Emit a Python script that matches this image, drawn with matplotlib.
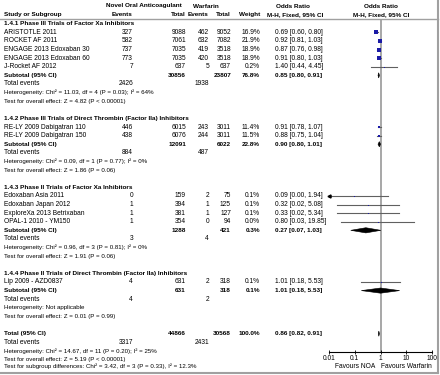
import matplotlib
matplotlib.use('Agg')
import matplotlib.pyplot as plt
from matplotlib.patches import Polygon

plt.rcParams['font.family'] = ['Liberation Sans', 'DejaVu Sans']

# ---------------- data ----------------
group_titles = [
    "1.4.1 Phase III Trials of Factor Xa Inhibitors",
    "1.4.2 Phase III Trials of Direct Thrombin (Factor IIa) Inhibitors",
    "1.4.3 Phase II Trials of Factor Xa Inhibitors",
    "1.4.4 Phase II Trials of Direct Thrombin (Factor IIa) Inhibitors",
]
study_names = [
    "ARISTOTLE 2011", "ROCKET AF 2011", "ENGAGE 2013 Edoxaban 30",
    "ENGAGE 2013 Edoxaban 60", "J-Rocket AF 2012",
    "RE-LY 2009 Dabigatran 110", "RE-LY 2009 Dabigatran 150",
    "Edoxaban Asia 2011", "Edoxaban Japan 2012", "ExploreXa 2013 Betrixaban",
    "OPAL-1 2010 - YM150", "Lip 2009 - AZD0837",
]
study_group = [0, 0, 0, 0, 0, 1, 1, 2, 2, 2, 2, 3]
noa_events = [327, 582, 737, 773, 7, 446, 438, 0, 1, 1, 1, 4]
noa_total = [9088, 7061, 7035, 7035, 637, 6015, 6076, 159, 394, 381, 354, 631]
war_events = [462, 632, 419, 420, 5, 243, 244, 2, 1, 1, 0, 2]
war_total = [9052, 7082, 3518, 3518, 637, 3011, 3011, 75, 125, 127, 94, 318]
weights = [16.9, 21.9, 18.9, 18.9, 0.2, 11.4, 11.5, 0.1, 0.1, 0.1, 0.0, 0.1]
or_est = [0.69, 0.92, 0.87, 0.91, 1.40, 0.91, 0.88, 0.09, 0.32, 0.33, 0.80, 1.01]
or_lo = [0.60, 0.81, 0.76, 0.80, 0.44, 0.78, 0.75, 0.00, 0.02, 0.02, 0.03, 0.18]
or_hi = [0.80, 1.03, 0.98, 1.03, 4.45, 1.07, 1.04, 1.94, 5.08, 5.34, 19.85, 5.53]

sub_noa_total = [30856, 12091, 1288, 631]
sub_war_total = [23807, 6022, 421, 318]
sub_weight = [76.8, 22.8, 0.3, 0.1]
sub_or = [0.85, 0.90, 0.27, 1.01]
sub_lo = [0.80, 0.80, 0.07, 0.18]
sub_hi = [0.91, 1.01, 1.03, 5.53]
sub_noa_events = [2426, 884, 3, 4]
sub_war_events = [1938, 487, 4, 2]
sub_het = [
    "Heterogeneity: Chi² = 11.03, df = 4 (P = 0.03); I² = 64%",
    "Heterogeneity: Chi² = 0.09, df = 1 (P = 0.77); I² = 0%",
    "Heterogeneity: Chi² = 0.96, df = 3 (P = 0.81); I² = 0%",
    "Heterogeneity: Not applicable",
]
sub_z = [
    "Test for overall effect: Z = 4.82 (P < 0.00001)",
    "Test for overall effect: Z = 1.86 (P = 0.06)",
    "Test for overall effect: Z = 1.91 (P = 0.06)",
    "Test for overall effect: Z = 0.01 (P = 0.99)",
]
tot_noa_total = 44866
tot_war_total = 30568
tot_weight = 100.0
tot_or, tot_lo, tot_hi = 0.86, 0.82, 0.91
tot_noa_events = 3317
tot_war_events = 2431
tot_het = "Heterogeneity: Chi² = 14.67, df = 11 (P = 0.20); I² = 25%"
tot_z = "Test for overall effect: Z = 5.19 (P < 0.00001)"
tot_sub = "Test for subgroup differences: Chi² = 3.42, df = 3 (P = 0.33), I² = 12.3%"

axis_ticks = [0.01, 0.1, 1, 10, 100]
axis_ticklabels = ["0.01", "0.1", "1", "10", "100"]
favours_left = "Favours NOA"
favours_right = "Favours Warfarin"

# ---------------- layout ----------------
W, H = 440, 375
fig = plt.figure(figsize=(W / 100, H / 100), dpi=100)
ax = fig.add_axes([0, 0, 1, 1])
ax.set_xlim(0, W)
ax.set_ylim(H, 0)
ax.axis('off')

FS = 4.8       # names, numbers
FS_B = 4.6     # bold labels
FS_S = 4.4     # long statistic lines
X_NAME = 4
X_E1 = 133
X_T1 = 186
X_E2 = 209
X_T2 = 231
X_W = 260
X_OR = 275
PLOT_L, PLOT_R = 329, 432
LINE_Y = 19
AXIS_Y = 352

def rowy(r):
    return 32.3 + (r - 3) * 8.61

ax_f = fig.add_axes([PLOT_L / W, (H - AXIS_Y) / H, (PLOT_R - PLOT_L) / W,
                     (AXIS_Y - LINE_Y) / H])
ax_f.set_xscale('log')
ax_f.set_xlim(axis_ticks[0], axis_ticks[-1])
ax_f.set_ylim(AXIS_Y, LINE_Y)
ax_f.patch.set_alpha(0)
for s in ['top', 'left', 'right']:
    ax_f.spines[s].set_visible(False)
ax_f.spines['bottom'].set_linewidth(0.8)
ax_f.set_yticks([])
ax_f.set_xticks(axis_ticks)
ax_f.set_xticklabels(axis_ticklabels, fontsize=FS)
ax_f.minorticks_off()
ax_f.tick_params(axis='x', direction='inout', length=3, width=0.6, pad=1)
ax_f.axvline(1, color='#a0a0a0', lw=1.3, zorder=1)

def t(x, y, s, ha='left', bold=False, fs=FS):
    ax.text(x, y, s, ha=ha, va='center', fontsize=fs,
            fontweight='bold' if bold else 'normal', color='black')

# headers
hy0, hy1 = 6.0, 14.2
t(144, hy0, "Novel Oral Anticoagulant", ha='center', bold=True, fs=FS_B)
t(206, hy0, "Warfarin", ha='center', bold=True, fs=FS_B)
t(293, hy0, "Odds Ratio", ha='center', bold=True, fs=FS_B)
t(381, hy0, "Odds Ratio", ha='center', bold=True, fs=FS_B)
t(X_NAME, hy1, "Study or Subgroup", bold=True, fs=FS_B)
t(X_E1, hy1, "Events", ha='right', bold=True, fs=FS_B)
t(X_T1, hy1, "Total", ha='right', bold=True, fs=FS_B)
t(X_E2, hy1, "Events", ha='right', bold=True, fs=FS_B)
t(X_T2, hy1, "Total", ha='right', bold=True, fs=FS_B)
t(X_W, hy1, "Weight", ha='right', bold=True, fs=FS_B)
t(295, hy1, "M-H, Fixed, 95% CI", ha='center', bold=True, fs=FS_B)
t(381, hy1, "M-H, Fixed, 95% CI", ha='center', bold=True, fs=FS_B)
ax.plot([0, 437.5], [LINE_Y, LINE_Y], color='#a0a0a0', lw=1.0)

def fmt_ci(e, lo, hi):
    return f"{e:.2f} [{lo:.2f}, {hi:.2f}]"

def diamond(y, e, lo, hi):
    h = 2.6
    ax_f.add_patch(Polygon([(lo, y), (e, y - h), (hi, y), (e, y + h)],
                           closed=True, facecolor='black', edgecolor='black',
                           lw=0.4, zorder=3))

xmin = ax_f.get_xlim()[0]
row = 2
for g in range(len(group_titles)):
    t(X_NAME, rowy(row), group_titles[g], bold=True, fs=FS_B)
    row += 1
    for i in range(len(study_names)):
        if study_group[i] != g:
            continue
        y = rowy(row)
        t(X_NAME, y, study_names[i])
        t(X_E1, y, str(noa_events[i]), ha='right')
        t(X_T1, y, str(noa_total[i]), ha='right')
        t(X_E2, y, str(war_events[i]), ha='right')
        t(X_T2, y, str(war_total[i]), ha='right')
        t(X_W, y, f"{weights[i]:.1f}%", ha='right')
        t(X_OR, y, fmt_ci(or_est[i], or_lo[i], or_hi[i]))
        lo = max(or_lo[i], xmin)
        ax_f.plot([lo, or_hi[i]], [y, y], color='#606060', lw=0.8, zorder=2)
        if or_lo[i] < xmin:
            ax_f.plot([xmin], [y], marker='<', ms=2.2, color='black',
                      clip_on=False, zorder=3)
        side = max(0.75 * weights[i] ** 0.5, 1.0)
        ax_f.plot([or_est[i]], [y], marker='s', ms=side * 0.72,
                  color='#1a1aa6', mew=0, zorder=4)
        row += 1
    y = rowy(row)
    t(X_NAME, y, "Subtotal (95% CI)", bold=True, fs=FS_B)
    t(X_T1, y, str(sub_noa_total[g]), ha='right', bold=True, fs=FS_B)
    t(X_T2, y, str(sub_war_total[g]), ha='right', bold=True, fs=FS_B)
    t(X_W, y, f"{sub_weight[g]:.1f}%", ha='right', bold=True, fs=FS_B)
    t(X_OR, y, fmt_ci(sub_or[g], sub_lo[g], sub_hi[g]), bold=True, fs=FS_B)
    diamond(y, sub_or[g], sub_lo[g], sub_hi[g])
    row += 1
    y = rowy(row)
    t(X_NAME, y, "Total events")
    t(X_E1, y, str(sub_noa_events[g]), ha='right')
    t(X_E2, y, str(sub_war_events[g]), ha='right')
    row += 1
    t(X_NAME, rowy(row), sub_het[g], fs=FS_S)
    row += 1
    t(X_NAME, rowy(row), sub_z[g], fs=FS_S)
    row += 2

y = rowy(row)
t(X_NAME, y, "Total (95% CI)", bold=True, fs=FS_B)
t(X_T1, y, str(tot_noa_total), ha='right', bold=True, fs=FS_B)
t(X_T2, y, str(tot_war_total), ha='right', bold=True, fs=FS_B)
t(X_W, y, f"{tot_weight:.1f}%", ha='right', bold=True, fs=FS_B)
t(X_OR, y, fmt_ci(tot_or, tot_lo, tot_hi), bold=True, fs=FS_B)
diamond(y, tot_or, tot_lo, tot_hi)
row += 1
y = rowy(row)
t(X_NAME, y, "Total events")
t(X_E1, y, str(tot_noa_events), ha='right')
t(X_E2, y, str(tot_war_events), ha='right')
row += 1
t(X_NAME, rowy(row), tot_het, fs=FS_S)
row += 1
t(X_NAME, rowy(row), tot_z, fs=FS_S)
row += 1
t(X_NAME, rowy(row) - 1.5, tot_sub, fs=FS_S)

# favours labels
ax_f.text(0.1, 366, favours_left, ha='center', va='center', fontsize=FS,
          clip_on=False)
ax_f.text(10, 366, favours_right, ha='center', va='center', fontsize=FS,
          clip_on=False)

# frame shadow lines
ax.plot([437.5, 437.5], [0, 372.5], color='#a0a0a0', lw=1.5)
ax.plot([0, 437.5], [372.5, 372.5], color='#a0a0a0', lw=1.5)

fig.savefig('out.png', dpi=100)
